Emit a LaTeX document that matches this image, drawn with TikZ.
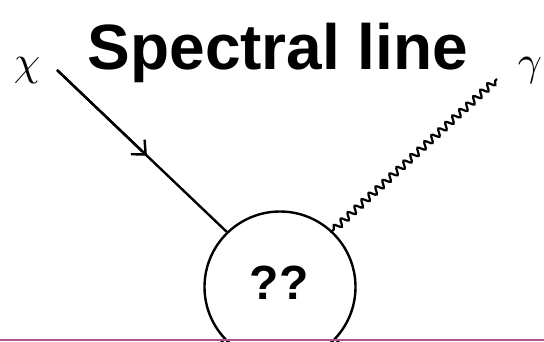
\documentclass[tikz,border=0pt]{standalone}
\usepackage{fontspec}
\setsansfont{Liberation Sans}
\usetikzlibrary{decorations.pathmorphing,arrows.meta,calc}
\definecolor{barpink}{RGB}{176,86,140}
\begin{document}
\begin{tikzpicture}[x=1pt,y=-1pt,
  leg/.style={line width=2.4pt,black},
  photon/.style={line width=2.2pt,decorate,decoration={snake,amplitude=3.4pt,segment length=9.5pt,pre length=2pt,post length=2pt}},
  blob/.style={circle,draw,line width=2.4pt,minimum size=151pt,inner sep=0pt},
  lbl/.style={inner sep=0pt,scale=4.2}]
\useasboundingbox (0,0) rectangle (544,341);
\clip (0,0) rectangle (544,341);
\node[blob] (b) at (280,287) {};
\node[inner sep=0pt,font=\sffamily\bfseries\fontsize{48}{48}\selectfont] (q) at (279,283) {??};
\node[inner sep=0pt,anchor=base,font=\sffamily\bfseries\fontsize{64}{64}\selectfont] (t) at (278,69) {Spectral line};
\node[lbl] (chi) at (27,71) {$\chi$};
\node[lbl] (gam) at (530,71) {$\gamma$};
\coordinate (cin) at (57,70);
\coordinate (gout) at (497,79);
\coordinate (l1) at (190,380);
\coordinate (l2) at (370,380);
\draw[leg] (cin) -- (b.134);
\draw[leg,-{Straight Barb[length=11pt,width=20pt,line width=2.4pt]}] (cin) -- ($(cin)!0.53!(b.134)$);
\draw[photon] (b.47) -- (gout);
\draw[leg] (b.-137) -- (l1);
\draw[leg] (b.-43) -- (l2);
\fill[barpink] (0,338.5) rectangle (544,341);
\end{tikzpicture}
\end{document}
